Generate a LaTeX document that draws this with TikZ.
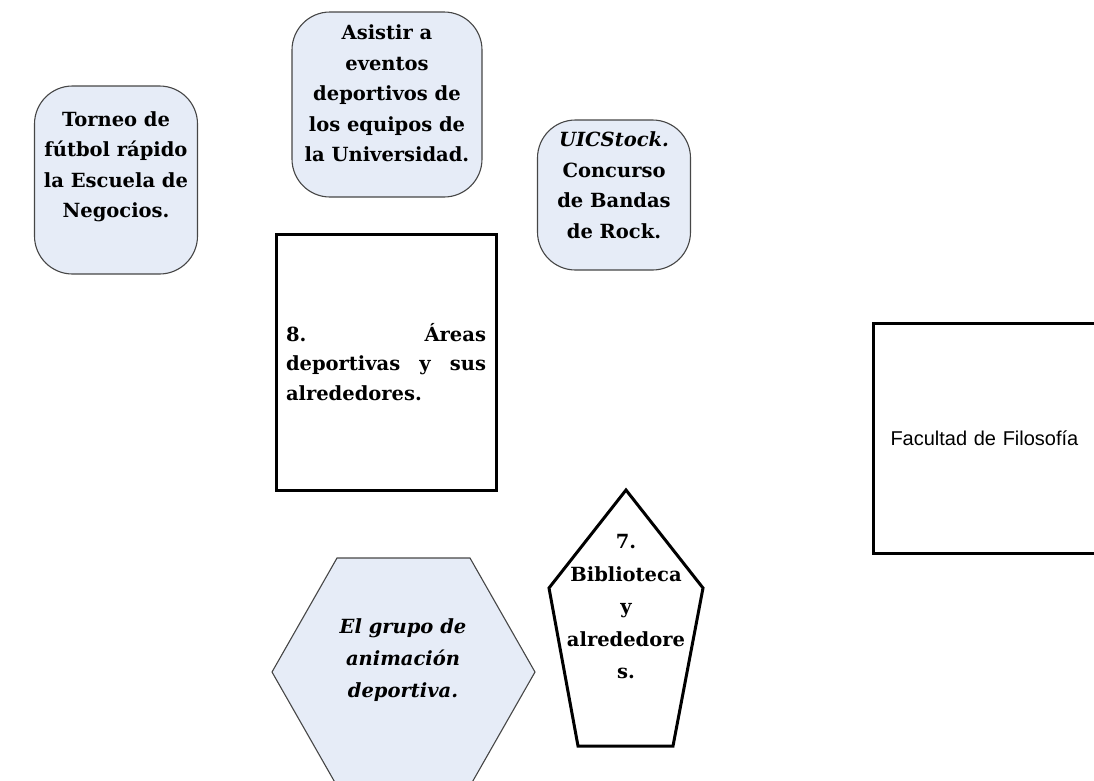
\documentclass[tikz,border=0pt]{standalone}
\usepackage{fontspec}
\setmainfont{DejaVu Serif}
\newfontfamily\arialfont{Liberation Sans}
\definecolor{colfill}{RGB}{230,236,247}
\definecolor{colrim}{RGB}{70,70,70}
\tikzset{
	eventbox/.style={rectangle, rounded corners=38pt, draw=colrim, fill=colfill, line width=1.1pt, inner sep=0pt},
	placebox/.style={rectangle, draw, line width=3pt, inner sep=0pt},
	eventshape/.style={draw=colrim, fill=colfill, line width=1.1pt},
	placeshape/.style={draw, line width=3pt, line join=miter},
	boldtext/.style={font=\bfseries\fontsize{19.5}{30.5}\selectfont, align=center}
}

\begin{document}
\begin{tikzpicture}[x=1pt, y=-1pt]
	\useasboundingbox (0,0) rectangle (1094,780);
	\clip (0,0) rectangle (1094,780);

	% rounded event boxes
	\node[eventbox, minimum width=163pt, minimum height=188pt] (torneo) at (116,180) {};
	\node[boldtext] (torneotext) at ([yshift=13pt]torneo.center)
		{Torneo de\\fútbol rápido\\la Escuela de\\Negocios.};
	\node[eventbox, minimum width=190pt, minimum height=185pt] (asistir) at (387,104.5) {};
	\node[boldtext] (asistirtext) at ([yshift=11pt]asistir.center)
		{Asistir a\\eventos\\deportivos de\\los equipos de\\la Universidad.};
	\node[eventbox, minimum width=153pt, minimum height=150pt] (rock) at (614,195) {};
	\node[boldtext] (rocktext) at ([yshift=10pt]rock.center)
		{\textit{UICStock.}\\Concurso\\de Bandas\\de Rock.};

	% places
	\node[placebox, minimum width=220pt, minimum height=256pt] (areas) at (386,362) {};
	\node[font=\bfseries\fontsize{19.5}{29.5}\selectfont, text width=200pt, align=left] (areastext) at (areas.center)
		{8.\hfill Áreas\\deportivas\hfill y\hfill sus\\alrededores.};
	\node[placebox, anchor=west, text width=238pt, inner xsep=17pt, minimum height=230pt,
		align=left, font=\arialfont\fontsize{20}{24}\selectfont] (filosofia) at (872,438)
		{Facultad de Filosofía};

	% hexagon
	\path[eventshape] (337,558) -- (470,558) -- (535,672) -- (470,786) -- (337,786) -- (272,672) -- cycle;
	\node[font=\bfseries\itshape\fontsize{19.5}{32}\selectfont, align=center] (grupo) at (403,660)
		{El grupo de\\animación\\deportiva.};

	% pentagon
	\path[placeshape] (626,490) -- (703,588) -- (673,746) -- (578,746) -- (549,588) -- cycle;
	\node[font=\bfseries\fontsize{19.5}{32.5}\selectfont, align=center] (biblioteca) at (626,607)
		{7.\\Biblioteca\\y\\alrededore\\s.};
\end{tikzpicture}
\end{document}
